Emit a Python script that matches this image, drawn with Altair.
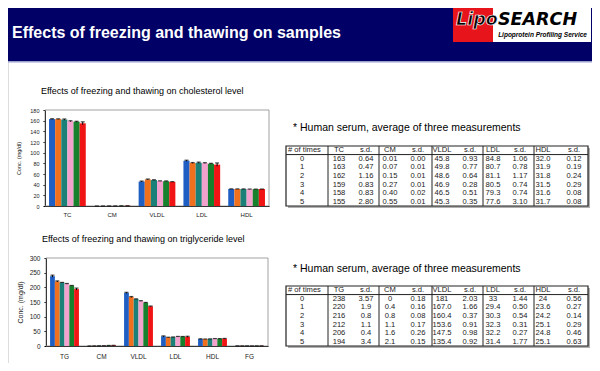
import altair as alt
import pandas as pd

# ---------------- data ----------------
times = ["0", "1", "2", "3", "4", "5"]          # number of freeze/thaw cycles
series_colors = ["#1f5fc4", "#f0701e", "#1a8078", "#f2a2cc", "#17802c", "#f01414"]

# cholesterol table (strings as printed; bars use the numbers)
chol_headers = ["# of times", "TC", "s.d.", "CM", "s.d.", "VLDL", "s.d.", "LDL", "s.d.", "HDL", "s.d."]
chol_categories = ["TC", "CM", "VLDL", "LDL", "HDL"]
chol_TC = ["163", "163", "162", "159", "158", "155"]
chol_TC_sd = ["0.64", "0.47", "1.16", "0.83", "0.83", "2.80"]
chol_CM = ["0.01", "0.07", "0.15", "0.27", "0.40", "0.55"]
chol_CM_sd = ["0.00", "0.01", "0.01", "0.01", "0.02", "0.01"]
chol_VLDL = ["45.8", "49.8", "48.6", "46.9", "46.5", "45.3"]
chol_VLDL_sd = ["0.93", "0.77", "0.64", "0.28", "0.51", "0.35"]
chol_LDL = ["84.8", "80.7", "81.1", "80.5", "79.3", "77.6"]
chol_LDL_sd = ["1.06", "0.78", "1.17", "0.74", "0.74", "3.10"]
chol_HDL = ["32.0", "31.9", "31.8", "31.5", "31.6", "31.7"]
chol_HDL_sd = ["0.12", "0.19", "0.24", "0.29", "0.08", "0.08"]

# triglyceride table
tg_headers = ["# of times", "TG", "s.d.", "CM", "s.d.", "VLDL", "s.d.", "LDL", "s.d.", "HDL", "s.d."]
tg_categories = ["TG", "CM", "VLDL", "LDL", "HDL", "FG"]
tg_TG = ["238", "220", "216", "212", "206", "194"]
tg_TG_sd = ["3.57", "1.9", "0.8", "1.1", "0.4", "3.4"]
tg_CM = ["0", "0.4", "0.8", "1.1", "1.6", "2.1"]
tg_CM_sd = ["0.18", "0.16", "0.08", "0.17", "0.26", "0.15"]
tg_VLDL = ["181", "167.0", "160.4", "153.6", "147.5", "135.4"]
tg_VLDL_sd = ["2.03", "1.66", "0.37", "0.91", "0.98", "0.92"]
tg_LDL = ["33", "29.4", "30.3", "32.3", "32.2", "31.4"]
tg_LDL_sd = ["1.44", "0.50", "0.54", "0.31", "0.27", "1.77"]
tg_HDL = ["24", "23.6", "24.2", "25.1", "24.8", "25.1"]
tg_HDL_sd = ["0.56", "0.27", "0.14", "0.29", "0.46", "0.63"]
tg_FG = ["0.6", "0.6", "0.6", "0.6", "0.6", "0.6"]      # not in table (near zero)
tg_FG_sd = ["0", "0", "0", "0", "0", "0"]

slide_title = "Effects of freezing and thawing on samples"
chart1_title = "Effects of freezing and thawing on cholesterol level"
chart2_title = "Effects of freezing and thawing on triglyceride level"
note_text = "* Human serum, average of three measurements"

# ---------------- layout ----------------
W, H = 584, 355
FONT = "Liberation Sans"
NAVY = "#000066"
P1 = dict(x0=37, x1=261, y0=102, y1=198)
P2 = dict(x0=38, x1=260, y0=250, y1=338)
T1 = dict(x0=278, x1=580, y0=138, y1=198)
T2 = dict(x0=278, x1=580, y0=278, y1=338)
TW = 302
COL_CX = [16, 53, 80, 104, 132, 156, 184, 207, 234, 257, 288]
SEPS = [42, 93, 146, 197, 248]

one = pd.DataFrame({"k": [0]})


def deco_rect(x0, x1, y0, y1, **kw):
    return alt.Chart(one).mark_rect(**kw).encode(
        x=alt.value(x0), x2=alt.value(x1), y=alt.value(y0), y2=alt.value(y1))


def deco_text(txt, x, y, **kw):
    return alt.Chart(one).mark_text(text=txt, baseline="middle", font=FONT, **kw).encode(
        x=alt.value(x), y=alt.value(y))


def bar_panel(cats, vals, sds, P, ymax, ystep, pin, lab_fs, xlab_fs, ttl_fs, lab_pad, ttl_pad, xlab_pad):
    recs = []
    for c, v_list, s_list in zip(cats, vals, sds):
        for t, v, s in zip(times, v_list, s_list):
            v, s = float(v), float(s)
            recs.append(dict(cat=c, times=t, val=v, lo=v - s, hi=v + s))
    df = pd.DataFrame(recs)
    xs = alt.Scale(domain=cats, range=[P["x0"], P["x1"]], paddingInner=pin, paddingOuter=pin / 2)
    xenc = alt.X("cat:N", sort=cats, scale=xs,
                 axis=alt.Axis(orient="bottom", offset=-(H - P["y1"]), title=None, labelAngle=0,
                               ticks=False, domainColor="black", domainWidth=1,
                               labelFontSize=xlab_fs, labelPadding=xlab_pad, labelColor="#222",
                               labelFont=FONT))
    ys = alt.Scale(domain=[0, ymax], range=[P["y1"], P["y0"]], nice=False, clamp=True)

    def yenc(f):
        return alt.Y(f, scale=ys,
                     axis=alt.Axis(orient="left", offset=-P["x0"], values=list(range(0, ymax + 1, ystep)),
                                   title="Conc. (mg/dl)", grid=False, tickSize=2, tickColor="black",
                                   domainColor="black", labelFontSize=lab_fs, labelPadding=lab_pad,
                                   labelColor="#222", labelFont=FONT, titleFont=FONT,
                                   titleFontSize=ttl_fs, titleFontWeight="normal", titleColor="#222",
                                   titlePadding=ttl_pad))
    xoff = alt.XOffset("times:N", sort=times,
                       scale=alt.Scale(domain=times, paddingInner=0, paddingOuter=0))
    frame = deco_rect(P["x0"], P["x1"], P["y0"], P["y1"], fill="transparent",
                      stroke="#8a8a8a", strokeWidth=0.8)
    bars = alt.Chart(df).mark_bar().encode(
        x=xenc, xOffset=xoff, y=yenc("val:Q"),
        color=alt.Color("times:N", sort=times, scale=alt.Scale(domain=times, range=series_colors),
                        legend=None))
    rules = alt.Chart(df).mark_rule(color="black", strokeWidth=1).encode(
        x=xenc, xOffset=xoff, y=yenc("lo:Q"), y2="hi:Q")
    caps_hi = alt.Chart(df).mark_tick(color="black", thickness=1.2, size=4).encode(
        x=xenc, xOffset=xoff, y=yenc("hi:Q"))
    return alt.layer(frame, bars, rules, caps_hi)


def table_panel(headers, columns, T):
    xs = alt.Scale(domain=[0, TW], range=[T["x0"], T["x1"]])
    ys = alt.Scale(domain=[0, 7], range=[T["y0"], T["y1"]])
    cells = []
    for c, (h, col) in enumerate(zip(headers, columns)):
        if c > 0:
            cells.append(dict(x=COL_CX[c], y=0.5, t=h))
        for r, v in enumerate(col):
            cells.append(dict(x=COL_CX[c], y=r + 1.5, t=v))
    cdf = pd.DataFrame(cells)
    hdf = pd.DataFrame([dict(x=2, y=0.5, t=headers[0])])
    lines = [dict(x=s, x2=s, y=0, y2=7) for s in SEPS] + [dict(x=0, x2=TW, y=1, y2=1)]
    ldf = pd.DataFrame(lines)
    bdf = pd.DataFrame([dict(x=0, x2=TW, y=0, y2=7)])
    X = lambda f: alt.X(f, scale=xs, axis=None)
    Y = lambda f: alt.Y(f, scale=ys, axis=None)
    shadow = alt.Chart(bdf).mark_rect(fill="#b0b0b0", xOffset=2, yOffset=2, x2Offset=2, y2Offset=2).encode(
        x=X("x:Q"), x2="x2:Q", y=Y("y:Q"), y2="y2:Q")
    box = alt.Chart(bdf).mark_rect(fill="white", stroke="#222", strokeWidth=1.2).encode(
        x=X("x:Q"), x2="x2:Q", y=Y("y:Q"), y2="y2:Q")
    seps = alt.Chart(ldf).mark_rule(color="#222", strokeWidth=1).encode(
        x=X("x:Q"), x2="x2:Q", y=Y("y:Q"), y2="y2:Q")
    txt = alt.Chart(cdf).mark_text(font=FONT, fontSize=7.6, color="#222", align="center",
                                   baseline="middle").encode(x=X("x:Q"), y=Y("y:Q"), text="t:N")
    htxt = alt.Chart(hdf).mark_text(font=FONT, fontSize=7.6, color="#222", align="left",
                                    baseline="middle").encode(x=X("x:Q"), y=Y("y:Q"), text="t:N")
    return alt.layer(shadow, box, seps, txt, htxt)


# ---------------- banner ----------------
banner = deco_rect(0, W, 0, 53, fill=NAVY)
banner_line = deco_rect(0, W, 53, 54.5, fill="#9aa0cc")
title = deco_text(slide_title, 4, 25, align="left", fontSize=16, fontWeight="bold", color="white")
logo_red = deco_rect(445, 485, 0, 34, fill="#e8141c")
logo_white = deco_rect(485, 583, 0, 34, fill="white")
lipo = alt.Chart(one).mark_text(text="Lipo", baseline="middle", align="left", font="DejaVu Sans",
                                fontSize=17.5, fontWeight="bold", fontStyle="italic", fill="black",
                                stroke="white", strokeWidth=0.7).encode(x=alt.value(448), y=alt.value(12))
search = alt.Chart(one).mark_text(text="SEARCH", baseline="middle", align="left", font="DejaVu Sans",
                                  fontSize=17.5, fontWeight="bold", fontStyle="italic",
                                  color="black").encode(x=alt.value(490), y=alt.value(12))
sub = deco_text("Lipoprotein Profiling Service", 579, 27, align="right", fontSize=6.5,
                fontWeight="bold", fontStyle="italic", color="black")

cap1 = deco_text(chart1_title, 33, 83, align="left", fontSize=9, color="black")
cap2 = deco_text(chart2_title, 34, 231, align="left", fontSize=9, color="black")
note1 = deco_text(note_text, 285, 120, align="left", fontSize=10.5, color="black")
note2 = deco_text(note_text, 285, 261, align="left", fontSize=10.5, color="black")

panel1 = bar_panel(chol_categories,
                   [chol_TC, chol_CM, chol_VLDL, chol_LDL, chol_HDL],
                   [chol_TC_sd, chol_CM_sd, chol_VLDL_sd, chol_LDL_sd, chol_HDL_sd],
                   P1, 180, 20, 0.18, 5.5, 6, 5.5, 4, 8, 5)
panel2 = bar_panel(tg_categories,
                   [tg_TG, tg_CM, tg_VLDL, tg_LDL, tg_HDL, tg_FG],
                   [tg_TG_sd, tg_CM_sd, tg_VLDL_sd, tg_LDL_sd, tg_HDL_sd, tg_FG_sd],
                   P2, 300, 50, 0.22, 6.5, 6.5, 7, 4, 6, 7)

tab1 = table_panel(chol_headers, [times, chol_TC, chol_TC_sd, chol_CM, chol_CM_sd, chol_VLDL,
                                  chol_VLDL_sd, chol_LDL, chol_LDL_sd, chol_HDL, chol_HDL_sd], T1)
tab2 = table_panel(tg_headers, [times, tg_TG, tg_TG_sd, tg_CM, tg_CM_sd, tg_VLDL, tg_VLDL_sd,
                                tg_LDL, tg_LDL_sd, tg_HDL, tg_HDL_sd], T2)

chart = alt.layer(
    banner, banner_line, title, logo_red, logo_white, lipo, search, sub,
    cap1, cap2, note1, note2, panel1, panel2, tab1, tab2
).resolve_scale(
    x="independent", y="independent", xOffset="independent"
).properties(
    width=W, height=H, autosize=alt.AutoSizeParams(type="none"), padding=0
).configure_view(strokeOpacity=0).configure(font=FONT)

chart.save("out.html", embed_options={"renderer": "svg", "actions": False})
